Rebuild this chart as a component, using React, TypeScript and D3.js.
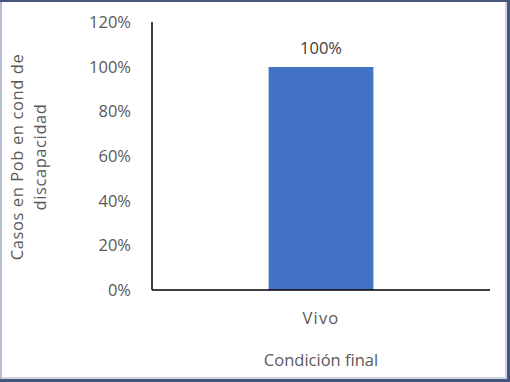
import React from "react";
import * as d3 from "d3";

const categories = ["Vivo"];
const values = [1.0];
const yTicks = [0, 0.2, 0.4, 0.6, 0.8, 1.0, 1.2];

export default function App() {
  const W = 510, H = 382;
  const left = 152, right = 490, bottom = 290;
  const x = d3.scaleBand<string>().domain(categories).range([left, right]).paddingInner(0.69).paddingOuter(0.345);
  const y = d3.scaleLinear().domain([0, 1.2]).range([bottom, 22.4]);
  const fmt = d3.format(".0%");
  const font = "'Open Sans', 'DejaVu Sans', sans-serif";
  const tc = "#595959";
  const fs = 16.5;
  return (
    <svg width={W} height={H} style={{ position: "absolute", left: 0, top: 0 }} fontFamily={font}>
      <rect x={0} y={0} width={W} height={H} fill="#fff" />
      {/* frame */}
      <rect x={0} y={0} width={2} height={H} fill="#b4bdd0" />
      <rect x={0} y={0} width={W} height={2} fill="#44557e" />
      <rect x={W - 3} y={0} width={3} height={H} fill="#44557e" />
      <rect x={0} y={H - 3} width={W} height={3} fill="#44557e" />
      <rect x={W - 5} y={2} width={2} height={H - 5} fill="#d0d4dd" />
      <rect x={2} y={H - 5} width={W - 5} height={2} fill="#d0d4dd" />
      {yTicks.map((t) => (
        <text key={t} x={131} y={y(t)} dy="0.35em" textAnchor="end" fontSize={fs} fill={tc}>
          {fmt(t)}
        </text>
      ))}
      {categories.map((c, i) => (
        <g key={c}>
          <rect x={x(c)} y={y(values[i])} width={x.bandwidth()} height={bottom - y(values[i])} fill="#4472c4" />
          <text x={x(c)! + x.bandwidth() / 2} y={y(values[i]) - 19} dy="0.35em" textAnchor="middle" fontSize={fs} fill="#404040">
            {fmt(values[i])}
          </text>
          <text x={x(c)! + x.bandwidth() / 2} y={318} dy="0.35em" textAnchor="middle" fontSize={fs} letterSpacing={1.2} fill={tc}>
            {c}
          </text>
        </g>
      ))}
      <line x1={left} x2={left} y1={22} y2={bottom} stroke="#000" strokeWidth={1.5} />
      <line x1={left} x2={right} y1={bottom} y2={bottom} stroke="#000" strokeWidth={1.5} />
      <text x={(left + right) / 2} y={360} dy="0.35em" textAnchor="middle" fontSize={fs} fill={tc}>
        Condición final
      </text>
      <g transform={`translate(17, 157) rotate(-90)`}>
        <text x={0} y={0} dy="0.35em" textAnchor="middle" fontSize={fs} letterSpacing={0.6} fill={tc}>
          Casos en Pob en cond de
        </text>
        <text x={0} y={23} dy="0.35em" textAnchor="middle" fontSize={fs} letterSpacing={0.6} fill={tc}>
          discapacidad
        </text>
      </g>
    </svg>
  );
}
